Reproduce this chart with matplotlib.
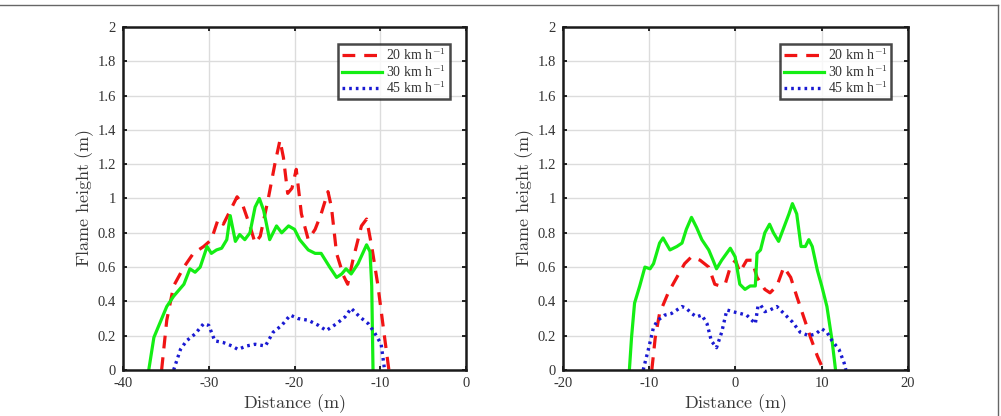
import matplotlib

matplotlib.use("Agg")
import matplotlib.pyplot as plt
from matplotlib.lines import Line2D

plt.rcParams["font.family"] = ["Liberation Serif", "DejaVu Serif"]
plt.rcParams["mathtext.fontset"] = "cm"

# left panel
l20_x = [-35.5, -34.9, -34.1, -32.9, -31.8, -30.6, -29.7, -28.9, -28.3, -27.7, -26.7,
         -26.1, -25.2, -24.6, -24.0, -23.1, -22.3, -21.7, -21.3, -20.8, -20.3, -19.8,
         -19.2, -18.4, -17.6, -16.9, -16.1, -15.7, -15.1, -14.3, -13.8, -13.2, -12.2,
         -11.6, -11.0, -10.3, -9.5, -9.0]
l20_y = [0.0, 0.29, 0.49, 0.60, 0.68, 0.72, 0.76, 0.88, 0.85, 0.91, 1.01,
         0.97, 0.84, 0.74, 0.78, 0.99, 1.20, 1.34, 1.24, 1.03, 1.06, 1.17,
         0.91, 0.76, 0.82, 0.91, 1.04, 0.95, 0.68, 0.55, 0.50, 0.64, 0.84,
         0.88, 0.72, 0.50, 0.19, 0.0]

l30_x = [-37.0, -36.4, -34.9, -34.1, -32.9, -32.2, -31.6, -31.0, -30.2, -29.7, -29.1,
         -28.5, -27.9, -27.5, -26.9, -26.4, -25.8, -25.2, -24.6, -24.1, -23.6, -22.9,
         -22.1, -21.5, -20.7, -20.0, -19.4, -18.4, -17.6, -16.9, -15.9, -15.1, -14.5,
         -14.0, -13.4, -12.6, -11.6, -11.2, -11.0, -10.85]
l30_y = [0.0, 0.19, 0.37, 0.43, 0.50, 0.59, 0.57, 0.60, 0.72, 0.68, 0.70,
         0.71, 0.76, 0.90, 0.75, 0.79, 0.76, 0.80, 0.95, 1.00, 0.93, 0.76,
         0.84, 0.80, 0.84, 0.82, 0.76, 0.70, 0.68, 0.68, 0.60, 0.54, 0.56,
         0.59, 0.56, 0.62, 0.73, 0.69, 0.49, 0.0]

l45_x = [-34.1, -33.3, -32.6, -31.6, -30.6, -30.0, -29.3, -28.3, -27.3, -26.6, -25.6,
         -24.6, -23.4, -22.5, -21.5, -20.5, -19.6, -18.4, -17.2, -16.3, -15.1, -14.1,
         -13.4, -12.4, -11.4, -10.7, -9.9, -9.5]
l45_y = [0.0, 0.12, 0.17, 0.21, 0.27, 0.26, 0.17, 0.16, 0.14, 0.12, 0.14,
         0.15, 0.14, 0.22, 0.26, 0.32, 0.30, 0.29, 0.26, 0.23, 0.27, 0.31,
         0.36, 0.31, 0.27, 0.22, 0.15, 0.0]

# right panel
r20_x = [-9.7, -9.3, -8.8, -7.8, -6.8, -5.9, -5.1, -4.1, -3.1, -2.4, -1.8, -1.2,
         -0.6, 0.0, 0.5, 1.3, 1.9, 2.5, 3.4, 4.0, 4.8, 5.6, 6.4, 7.1, 7.9, 8.7,
         9.5, 10.2]
r20_y = [0.0, 0.19, 0.33, 0.45, 0.54, 0.62, 0.66, 0.64, 0.60, 0.50, 0.49, 0.50,
         0.60, 0.64, 0.57, 0.64, 0.64, 0.54, 0.47, 0.45, 0.49, 0.60, 0.54, 0.43,
         0.31, 0.19, 0.08, 0.0]

r30_x = [-12.3, -12.05, -11.7, -11.1, -10.5, -9.9, -9.5, -8.8, -8.4, -7.6, -6.8,
         -6.2, -5.7, -5.1, -4.5, -3.9, -3.1, -2.6, -2.2, -1.6, -0.6, -0.04, 0.5,
         1.1, 1.7, 2.3, 2.5, 2.9, 3.4, 3.95, 4.4, 5.0, 5.6, 6.2, 6.6, 7.1, 7.6,
         8.1, 8.5, 8.9, 9.5, 10.0, 10.6, 11.2, 11.6]
r30_y = [0.0, 0.19, 0.39, 0.49, 0.60, 0.59, 0.62, 0.74, 0.77, 0.70, 0.72,
         0.74, 0.82, 0.89, 0.83, 0.76, 0.70, 0.64, 0.59, 0.64, 0.71, 0.66, 0.50,
         0.47, 0.49, 0.49, 0.68, 0.70, 0.80, 0.85, 0.80, 0.75, 0.83, 0.91, 0.97,
         0.91, 0.72, 0.72, 0.76, 0.72, 0.58, 0.49, 0.37, 0.17, 0.0]

r45_x = [-10.7, -10.1, -9.5, -9.0, -8.2, -7.4, -6.8, -6.2, -5.7, -5.1, -4.5, -3.9,
         -3.3, -2.8, -2.2, -1.6, -1.0, -0.3, 0.5, 1.3, 2.3, 2.6, 2.9, 3.4, 4.0,
         4.8, 5.6, 6.6, 7.5, 8.5, 9.3, 10.0, 10.6, 11.2, 12.0, 12.6, 12.8]
r45_y = [0.0, 0.12, 0.25, 0.29, 0.32, 0.33, 0.35, 0.37, 0.36, 0.33, 0.31, 0.32,
         0.27, 0.17, 0.13, 0.22, 0.35, 0.34, 0.33, 0.32, 0.27, 0.37, 0.38, 0.34,
         0.35, 0.37, 0.33, 0.28, 0.22, 0.20, 0.21, 0.24, 0.22, 0.17, 0.12, 0.04, 0.0]

labels = ["20 km h$^{-1}$", "30 km h$^{-1}$", "45 km h$^{-1}$"]
RED, GREEN, BLUE = "#f01414", "#14ee14", "#1a1ad2"
STYLES = [
    dict(color=RED, lw=2.3, dashes=(4.0, 2.8)),
    dict(color=GREEN, lw=2.3, linestyle="-"),
    dict(color=BLUE, lw=2.4, dashes=(0.8, 1.2)),
]

fig = plt.figure(figsize=(10.01, 4.16), dpi=100)
fig.patch.set_facecolor("white")
fig.add_artist(Line2D([0, 0.997], [0.988, 0.988], transform=fig.transFigure,
                      color="#666666", lw=1.0))
fig.add_artist(Line2D([0.997, 0.997], [0.0, 0.988], transform=fig.transFigure,
                      color="#666666", lw=1.0))

panels = [
    ([0.1229, 0.1106, 0.3427, 0.8245], (-40, 0), [-40, -30, -20, -10, 0],
     [(l20_x, l20_y), (l30_x, l30_y), (l45_x, l45_y)]),
    ([0.5624, 0.1106, 0.3447, 0.8245], (-20, 20), [-20, -10, 0, 10, 20],
     [(r20_x, r20_y), (r30_x, r30_y), (r45_x, r45_y)]),
]

for rect, xlim, xticks, series in panels:
    ax = fig.add_axes(rect)
    ax.grid(color="#dcdcdc", linewidth=1.0)
    ax.set_axisbelow(True)
    for (xs, ys), st, lab in zip(series, STYLES, labels):
        ax.plot(xs, ys, label=lab, **st)
    ax.set_xlim(*xlim)
    ax.set_ylim(0, 2)
    ax.set_xticks(xticks)
    ax.set_yticks([0, 0.2, 0.4, 0.6, 0.8, 1, 1.2, 1.4, 1.6, 1.8, 2])
    ax.set_yticklabels(["0", "0.2", "0.4", "0.6", "0.8", "1", "1.2", "1.4", "1.6", "1.8", "2"])
    ax.set_xticklabels([str(v) for v in xticks])
    for s in ax.spines.values():
        s.set_linewidth(1.8)
        s.set_color("#1a1a1a")
    ax.tick_params(direction="in", top=True, right=True, length=3, width=1.2,
                   labelsize=10.5, labelcolor="#333333", pad=5)
    ax.set_xlabel(r"$\mathrm{Distance\ (m)}$", fontsize=13, color="#3a3a3a", labelpad=2)
    ax.set_ylabel(r"$\mathrm{Flame\ height\ (m)}$", fontsize=13, color="#3a3a3a", labelpad=1)
    leg = ax.legend(loc="upper right", bbox_to_anchor=(0.952, 0.95), fontsize=10,
                    frameon=True, fancybox=False, handlelength=2.9, handletextpad=0.3,
                    borderpad=0.25, labelspacing=0.05, borderaxespad=0)
    leg.get_frame().set_edgecolor("#1a1a1a")
    leg.get_frame().set_linewidth(1.8)
    for t in leg.get_texts():
        t.set_color("#333333")

fig.savefig("out.png", dpi=100, facecolor="white")
